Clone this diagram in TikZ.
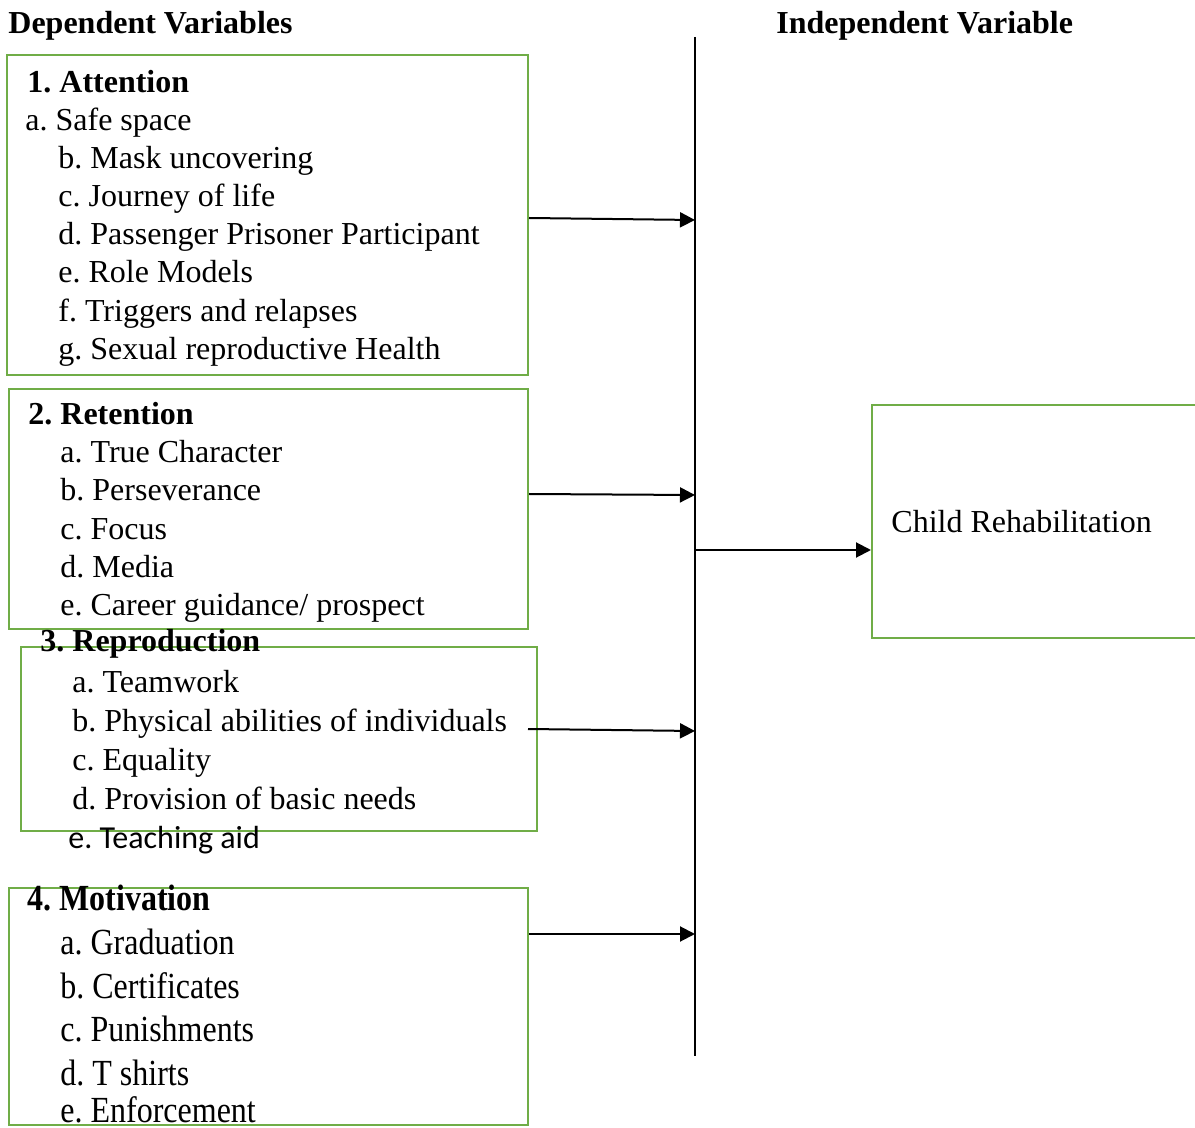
\documentclass[tikz,border=0pt]{standalone}
\usepackage{fontspec}
\setmainfont{Liberation Serif}
\newfontfamily\calibrifont{Carlito}
\usetikzlibrary{arrows.meta,positioning,fit}
\definecolor{boxgreen}{HTML}{70AD47}
\frenchspacing
\tikzset{varbox/.style={draw=boxgreen,line width=1pt,inner sep=0pt},
  txt/.style={anchor=base west,inner sep=0pt,font=\fontsize{16}{19}\selectfont},
  hdr/.style={txt,font=\fontsize{16}{19}\selectfont\bfseries},
  link/.style={-{Triangle[length=7.5pt,width=7.5pt]},line width=1pt}}
\newcommand{\tall}[1]{\scalebox{1}[1.15]{#1}}

\begin{document}
\begin{tikzpicture}[x=0.5pt,y=-0.5pt]
\useasboundingbox (0,0) rectangle (1195,1128);
% \draw[help lines,step=100] (0,0) grid (1195,1128);
\node (dep) [hdr] at (8,34) {Dependent Variables};
\node (indep) [hdr] at (776,34) {Independent Variable};
%
\node (b1) [varbox,fit={(7,55) (528,375)}] {};
\node (b2) [varbox,fit={(9,389) (528,629)}] {};
\node (b3) [varbox,fit={(21,647) (537,831)}] {};
\node (b4) [varbox,fit={(9,888) (528,1125)}] {};
\node (out) [varbox,fit={(872,405) (1215,638)}] {};
%
\node (att) [hdr] at (27,93) {1. Attention};
\node (att-a) [txt] at (25,131) {a. Safe space};
\node (att-b) [txt] at (58,169) {b. Mask uncovering};
\node (att-c) [txt] at (58,207) {c. Journey of life};
\node (att-d) [txt] at (58,245) {d. Passenger Prisoner Participant};
\node (att-e) [txt] at (58,283) {e. Role Models};
\node (att-f) [txt] at (58,322) {f. Triggers and relapses};
\node (att-g) [txt] at (58,360) {g. Sexual reproductive Health};
%
\node (ret) [hdr] at (28,425) {2. Retention};
\node (ret-a) [txt] at (60,463) {a. True Character};
\node (ret-b) [txt] at (60,501) {b. Perseverance};
\node (ret-c) [txt] at (60,540) {c. Focus};
\node (ret-d) [txt] at (60,578) {d. Media};
\node (ret-e) [txt] at (60,616) {e. Career guidance/ prospect};
%
\node (rep) [hdr] at (40,652) {3. Reproduction};
\node (rep-a) [txt] at (72,692) {a. Teamwork};
\node (rep-b) [txt] at (72,731) {b. Physical abilities of individuals};
\node (rep-c) [txt] at (72,770) {c. Equality};
\node (rep-d) [txt] at (72,809) {d. Provision of basic needs};
\node (rep-e) [txt,font=\fontsize{16}{19}\calibrifont] at (68,848) {e. Teaching aid};
%
\node (mot) [hdr] at (27,910) {\tall{4. Motivation}};
\node (mot-a) [txt] at (60,954) {\tall{a. Graduation}};
\node (mot-b) [txt] at (60,998) {\tall{b. Certificates}};
\node (mot-c) [txt] at (60,1041) {\tall{c. Punishments}};
\node (mot-d) [txt] at (60,1085) {\tall{d. T shirts}};
\node (mot-e) [txt] at (60,1122) {\tall{e. Enforcement}};
%
\node (child) [txt] at (891,533) {Child Rehabilitation};
%
\coordinate (top) at (695,37);
\coordinate (bot) at (695,1056);
\coordinate (j1) at (695,220);
\coordinate (j2) at (695,495);
\coordinate (j3) at (695,731);
\coordinate (j4) at (695,934);
\coordinate (s3) at (528,729);
\coordinate (j0) at (695,550);
\draw[line width=1pt] (top) -- (bot);
\draw[link] (b1.east |- 0,218) -- (j1);
\draw[link] (b2.east |- 0,494) -- (j2);
\draw[link] (s3) -- (j3);
\draw[link] (b4.east |- 0,934) -- (j4);
\draw[link] (j0) -- (out.west |- j0);
\end{tikzpicture}
\end{document}
